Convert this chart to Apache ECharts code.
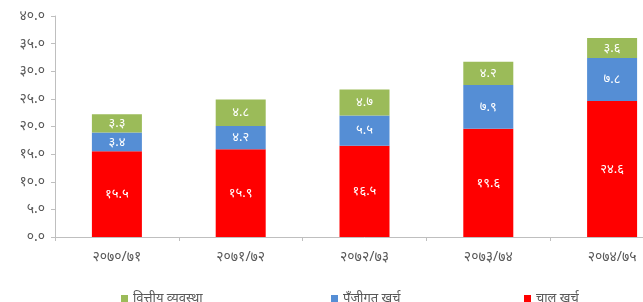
<!DOCTYPE html>
<html>
<head>
<meta charset="utf-8">
<script src="https://cdn.jsdelivr.net/npm/echarts@6/dist/echarts.min.js"></script>
<style>
html, body { margin: 0; padding: 0; overflow: hidden; background: #fff; }
#chart { width: 674px; height: 302px; }
</style>
</head>
<body>
<div id="chart"></div>
<script>
var years = ['२०७०/७१', '२०७१/७२', '२०७२/७३', '२०७३/७४', '२०७४/७५'];
var recurrent = [15.5, 15.9, 16.5, 19.6, 24.6];   // चालु खर्च
var capital = [3.4, 4.2, 5.5, 7.9, 7.8];          // पुँजीगत खर्च
var financing = [3.3, 4.8, 4.7, 4.2, 3.6];        // वित्तीय व्यवस्था

var digits = '०१२३४५६७८९';
function toNepali(v) {
    return v.toFixed(1).replace(/[0-9]/g, function (d) { return digits[+d]; });
}

var font = 'Noto Sans, DejaVu Sans, sans-serif';
var chart = echarts.init(document.getElementById('chart'));

function barSeries(name, data, color) {
    return {
        name: name,
        type: 'bar',
        stack: 'total',
        data: data,
        barWidth: 50,
        itemStyle: { color: color },
        label: {
            show: true,
            position: 'inside',
            color: '#fff',
            fontSize: 13,
            fontFamily: font,
            formatter: function (p) { return toNepali(p.value); }
        }
    };
}

function legendAt(name, left) {
    return {
        data: [name],
        left: left,
        top: 287,
        itemWidth: 7,
        itemHeight: 7,
        itemGap: 4,
        icon: 'rect',
        textStyle: { fontSize: 13, color: '#595959', fontFamily: font }
    };
}

chart.setOption({
    animation: false,
    grid: { left: 55, right: 0, top: 16, bottom: 65 },
    legend: [
        legendAt('वित्तीय व्यवस्था', 116),
        legendAt('पुँजीगत खर्च', 326),
        legendAt('चालु खर्च', 519)
    ],
    xAxis: {
        type: 'category',
        data: years,
        axisLine: { lineStyle: { color: '#bfbfbf' } },
        axisTick: { show: true, length: 4, lineStyle: { color: '#bfbfbf' } },
        axisLabel: { color: '#595959', fontSize: 14, fontFamily: font, margin: 13 }
    },
    yAxis: {
        type: 'value',
        min: 0,
        max: 40,
        interval: 5,
        axisLine: { show: true, lineStyle: { color: '#bfbfbf' } },
        axisTick: { show: true, length: 4, lineStyle: { color: '#bfbfbf' } },
        splitLine: { show: false },
        axisLabel: {
            color: '#595959', fontSize: 14, fontFamily: font, margin: 10,
            formatter: function (v) { return toNepali(v); }
        }
    },
    series: [
        barSeries('चालु खर्च', recurrent, '#ff0000'),
        barSeries('पुँजीगत खर्च', capital, '#558ed5'),
        barSeries('वित्तीय व्यवस्था', financing, '#9bbb59')
    ]
});
</script>
</body>
</html>
